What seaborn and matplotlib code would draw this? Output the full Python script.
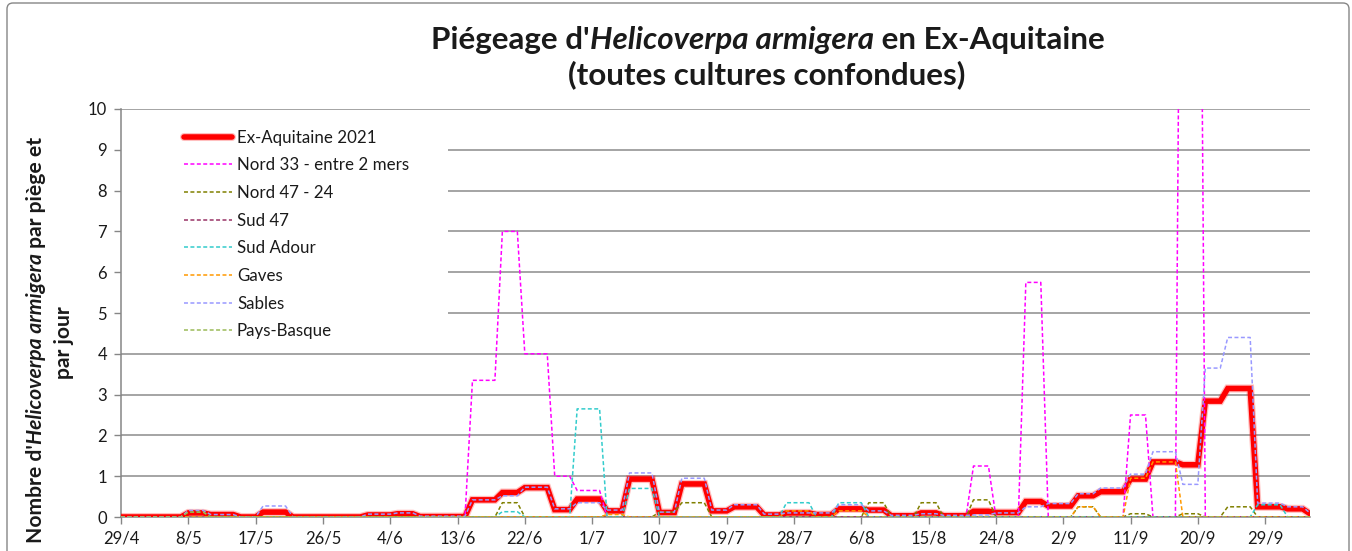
import numpy as np
import pandas as pd
import matplotlib.pyplot as plt
import matplotlib.patheffects as pe
from matplotlib.patches import Rectangle, FancyBboxPatch
from matplotlib.transforms import IdentityTransform
import seaborn as sns

# jour de debut de chaque releve (jours depuis le 29/4/2021)
debut_releve = [0, 2, 5, 9, 12, 16, 19, 23, 26, 30, 33, 37, 40, 44, 47, 51, 54, 58, 61, 65,
                68, 72, 75, 79, 82, 86, 89, 93, 96, 100, 103, 107, 110, 114, 117, 121, 124,
                128, 131, 135, 138, 142, 145, 148, 152, 156, 159]
nb_jours = 160

# captures moyennes par piege et par jour, une valeur par releve
ex_aquitaine = [0, 0, 0, 0.10, 0.06, 0, 0.12, 0, 0, 0,
                0.05, 0.08, 0.01, 0.01, 0.42, 0.60, 0.72, 0.18, 0.44, 0.15,
                0.93, 0.11, 0.81, 0.15, 0.25, 0.05, 0.10, 0.06, 0.20, 0.17,
                0.03, 0.10, 0.03, 0.14, 0.11, 0.38, 0.27, 0.52, 0.62, 0.93,
                1.35, 1.28, 2.84, 3.15, 0.25, 0.20, 0.08]
nord33 = [0, 0, 0, 0, 0, 0, 0, 0, 0, 0,
          0, 0, 0, 0, 3.35, 7.0, 4.0, 1.0, 0.65, 0,
          0, 0, 0, 0, 0, 0, 0, 0, 0, 0,
          0, 0, 0, 1.25, 0, 5.75, 0, 0, 0, 2.5,
          0, 25, 0, 0, 0, 0, 0]
nord47_24 = [0, 0, 0, 0.12, 0, 0, 0, 0, 0, 0,
             0, 0, 0, 0, 0, 0.35, 0, 0, 0, 0,
             0, 0.12, 0.35, 0, 0, 0, 0, 0, 0, 0.35,
             0, 0.35, 0, 0.42, 0, 0, 0, 0.25, 0, 0.08,
             0, 0.08, 0, 0.25, 0, 0, 0]
sud47 = [0, 0, 0, 0, 0, 0, 0, 0, 0, 0,
         0, 0, 0, 0, 0, 0, 0, 0, 0, 0,
         0, 0, 0, 0, 0, 0, 0, 0, 0, 0,
         0, 0, 0, 0, 0, 0, 0, 0, 0, 0,
         0, 0, 0, 0, 0, 0, 0]
sud_adour = [0, 0, 0, 0, 0, 0, 0, 0, 0, 0,
             0, 0, 0, 0, 0, 0.13, 0, 0, 2.65, 0,
             0.70, 0, 0, 0, 0, 0, 0.35, 0, 0.35, 0,
             0, 0, 0, 0, 0, 0, 0, 0, 0, 0,
             0, 0, 0, 0, 0.30, 0, 0]
gaves = [0, 0, 0, 0, 0, 0, 0, 0, 0, 0,
         0, 0, 0, 0, 0, 0, 0, 0, 0, 0.06,
         0, 0, 0, 0, 0, 0, 0.15, 0, 0.15, 0,
         0, 0, 0, 0, 0, 0, 0, 0.25, 0, 0.95,
         1.35, 0, 0, 0, 0, 0, 0]
sables = [0, 0, 0, 0.16, 0.06, 0, 0.27, 0, 0, 0,
          0.07, 0.10, 0.02, 0.02, 0.42, 0.52, 0.73, 0.20, 0.35, 0.17,
          1.08, 0.12, 0.95, 0.17, 0.30, 0.07, 0.10, 0.10, 0.30, 0.15,
          0.04, 0.08, 0.04, 0.05, 0.10, 0.25, 0.33, 0.57, 0.71, 1.05,
          1.60, 0.80, 3.65, 4.40, 0.34, 0.25, 0.10]
pays_basque = [0, 0, 0, 0.12, 0, 0, 0, 0, 0, 0,
               0, 0, 0, 0, 0, 0, 0, 0, 0, 0,
               0, 0, 0, 0, 0, 0, 0, 0, 0, 0,
               0, 0, 0, 0, 0, 0, 0, 0, 0, 0,
               0, 0, 0, 0, 0, 0, 0]

series = [
    ("Ex-Aquitaine 2021", ex_aquitaine, "#ff0000"),
    ("Nord 33 - entre 2 mers", nord33, "#ff00ff"),
    ("Nord 47 - 24", nord47_24, "#808000"),
    ("Sud 47", sud47, "#993366"),
    ("Sud Adour", sud_adour, "#33cccc"),
    ("Gaves", gaves, "#ff9900"),
    ("Sables", sables, "#9999ff"),
    ("Pays-Basque", pays_basque, "#9bbb59"),
]

dates = pd.date_range("2021-04-29", periods=nb_jours, freq="D")
longueurs = np.diff(debut_releve + [nb_jours])
ticks = pd.date_range("2021-04-29", "2021-09-29", freq="9D")

sns.set_theme(style="white")
plt.rcParams["font.family"] = ["Lato", "DejaVu Sans"]

W, H = 1352, 551
fig = plt.figure(figsize=(W / 100, H / 100), dpi=100)
ax = fig.add_axes([121 / W, 1 - 517 / H, (1310 - 121) / W, (517 - 109) / H])

for i, (nom, vals, couleur) in enumerate(series):
    jour = np.repeat(vals, longueurs)
    if i == 0:
        sns.lineplot(x=dates, y=jour, ax=ax, color=couleur, lw=4.0, label=nom,
                     solid_joinstyle="miter", zorder=3,
                     path_effects=[pe.Stroke(linewidth=5.8, foreground="#ff0000", alpha=0.25),
                                   pe.Normal()])
    else:
        sns.lineplot(x=dates, y=jour, ax=ax, color=couleur, lw=1.1,
                     linestyle=(0, (2.6, 1.6)), label=nom, zorder=3 + i)

ax.set_ylim(0, 10)
ax.set_xlim(dates[0], dates[-1])
ax.set_yticks(range(0, 11))
ax.set_xticks(ticks)
ax.set_xticklabels([f"{d.day}/{d.month}" for d in ticks])
ax.tick_params(axis="both", which="major", direction="out", length=5, width=1,
               color="#868686", labelsize=12, labelcolor="#1a1a1a", pad=5, left=True, bottom=True)
ax.set_xlabel("")
ax.set_ylabel("")
ax.yaxis.grid(True, color="#8c8c8c", lw=1.1)
ax.set_axisbelow(True)
for s in ["top", "right"]:
    ax.spines[s].set_visible(False)
for s in ["left", "bottom"]:
    ax.spines[s].set_color("#868686")
    ax.spines[s].set_linewidth(1.1)

# fond blanc de la legende qui masque le quadrillage
ax.add_patch(Rectangle((121, 551 - 340), 448 - 121, 340 - 116, transform=IdentityTransform(),
                       facecolor="white", edgecolor="none", zorder=1.5))
leg = ax.legend(loc="upper left", bbox_to_anchor=(170 / W, 1 - 116 / H), bbox_transform=fig.transFigure,
                frameon=False, fontsize=12.2, handlelength=2.85, handletextpad=0.3, labelspacing=0.69,
                borderpad=0.3)
for t in leg.get_texts():
    t.set_color("#1a1a1a")

# titre et axe y avec une partie en italique
renderer = fig.canvas.get_renderer()


def texte_mixte(cx, cy, morceaux, size, vertical=False):
    objs = []
    for txt, style in morceaux:
        t = fig.text(0, 0, txt, fontsize=size, fontweight="bold", fontstyle=style, color="#1a1a1a",
                     transform=IdentityTransform(), rotation=90 if vertical else 0,
                     rotation_mode="anchor", ha="left", va="center")
        objs.append(t)
    bb = [t.get_window_extent(renderer) for t in objs]
    tailles = [b.height if vertical else b.width for b in bb]
    pos = (cy if vertical else cx) - sum(tailles) / 2
    for t, w in zip(objs, tailles):
        t.set_position((cx, pos) if vertical else (pos, cy))
        pos += w


texte_mixte(768, H - 40, [("Piégeage d'", "normal"), ("Helicoverpa armigera", "italic"),
                          (" en Ex-Aquitaine", "normal")], 22.6)
texte_mixte(767, H - 75, [("(toutes cultures confondues)", "normal")], 22.6)
texte_mixte(36, H - 340, [("Nombre d'", "normal"), ("Helicoverpa armigera", "italic"),
                          (" par piège et", "normal")], 15.2, vertical=True)
texte_mixte(64, H - 343, [("par jour", "normal")], 15.2, vertical=True)

fig.patches.append(FancyBboxPatch((7, -10), W - 10, H + 7, boxstyle="round,pad=0,rounding_size=6",
                                  transform=IdentityTransform(), facecolor="none",
                                  edgecolor="#868686", lw=1.0))

fig.savefig("out.png", dpi=100)
